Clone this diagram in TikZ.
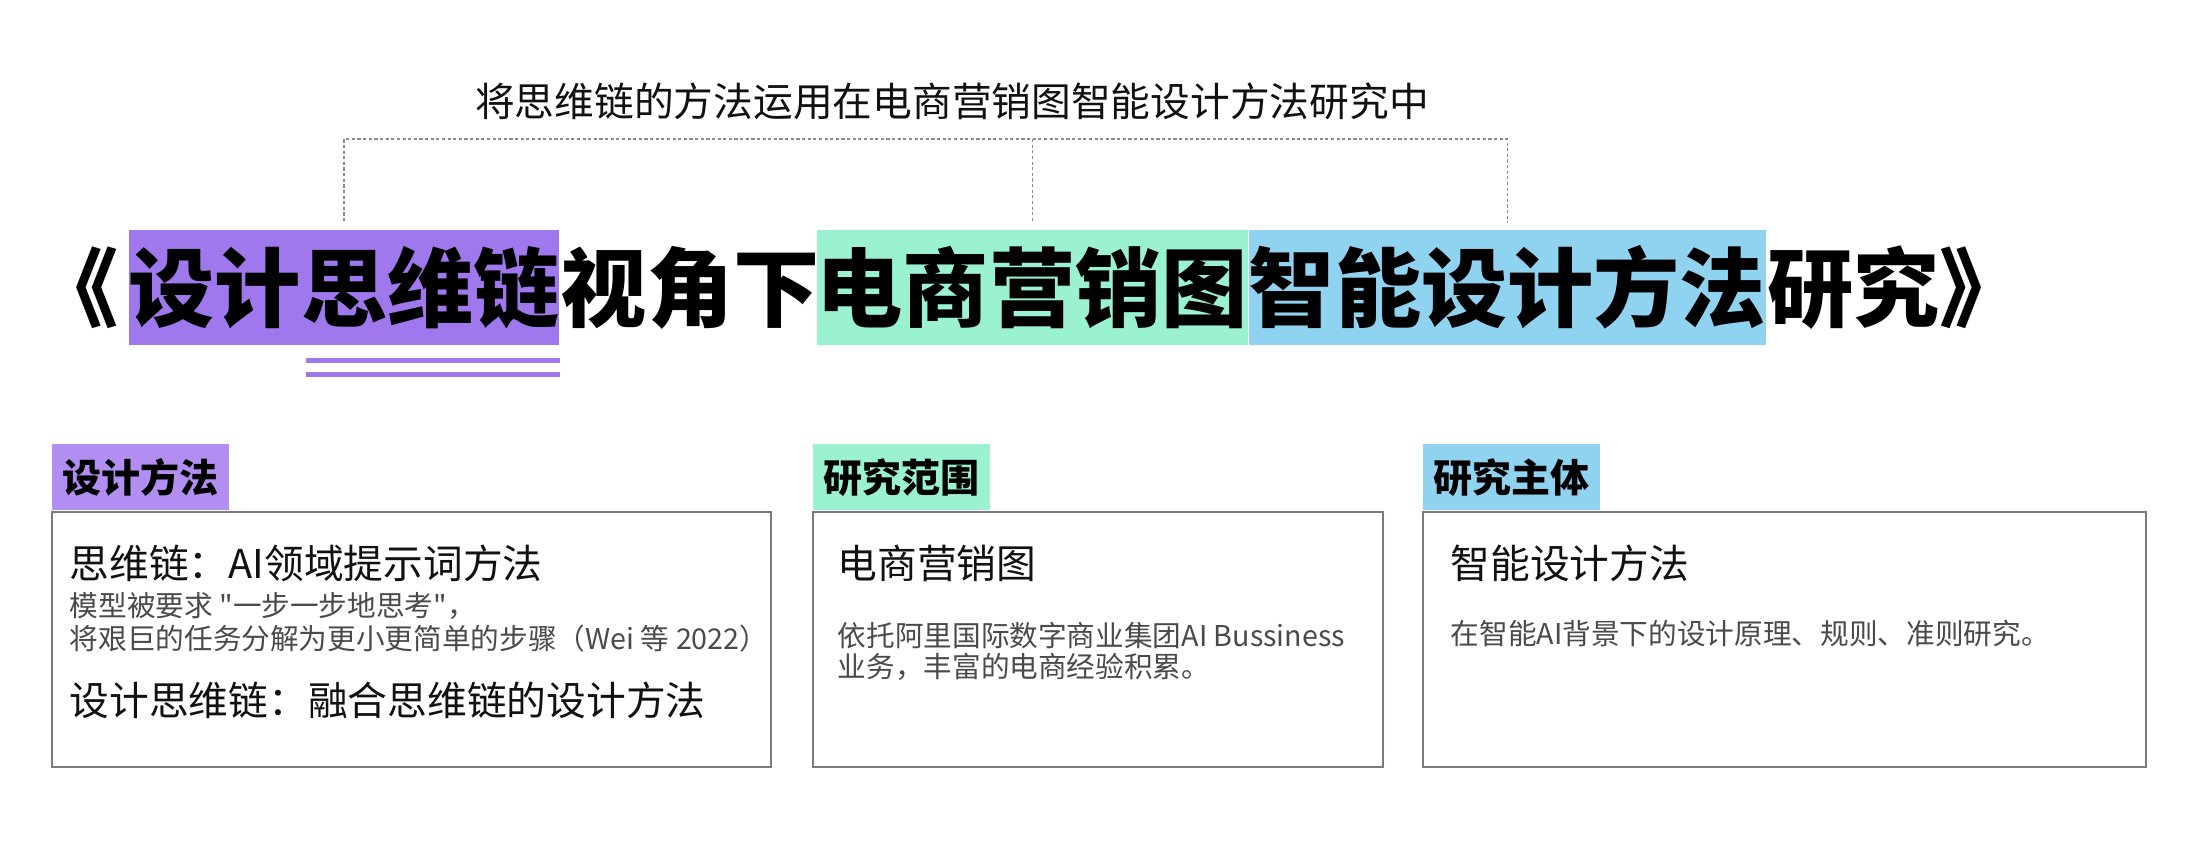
\documentclass[tikz,border=0pt]{standalone}
\usepackage{fontspec}
\setmainfont{Noto Sans CJK SC}
\newfontfamily\cjkplain{Noto Sans CJK SC}
\usepackage{tikz}
\usetikzlibrary{positioning}
\definecolor{purpA}{HTML}{A078EE}
\definecolor{purpB}{HTML}{B28EF3}
\definecolor{mint}{HTML}{9BF2D0}
\definecolor{sky}{HTML}{90D3F1}
\definecolor{cardgray}{HTML}{7A7A85}
\definecolor{dotgray}{HTML}{8C8C8C}
\definecolor{ink}{HTML}{111111}
\definecolor{txtgray}{HTML}{4A4A4A}
\tikzset{
  lead/.style={font=\fontsize{11.3pt}{11.3pt}\selectfont,text=ink,inner sep=0pt},
  ttl/.style={font=\bfseries\fontsize{24.5pt}{24.5pt}\selectfont,text=black,inner xsep=0pt,inner ysep=0.145cm,text height=0.757cm,text depth=0.103cm},
  tag/.style={font=\bfseries\fontsize{11.1pt}{11.1pt}\selectfont,text=black,anchor=south west,inner xsep=0.105cm,inner ysep=0.135cm,text height=0.343cm,text depth=0.047cm},
  card/.style={draw=cardgray,line width=0.43pt,minimum height=2.55cm,anchor=north west,inner sep=0pt},
  hd/.style={font=\fontsize{11.3pt}{11.3pt}\selectfont,text=ink,anchor=west,inner sep=0pt,text height=0.35cm,text depth=0.048cm},
  txt/.style={font=\cjkplain\fontsize{8.15pt}{8.15pt}\selectfont,text=txtgray,anchor=west,inner sep=0pt,text height=0.25cm,text depth=0.035cm},
  dots/.style={draw=dotgray,line width=0.37pt,dash pattern=on 0.9pt off 0.7pt},
  ubar/.style={draw=purpA,line width=0.05cm}
}

\begin{document}
\begin{tikzpicture}[x=0.01cm,y=-0.01cm]
\fill[white] (0,0) rectangle (2212,856);
\useasboundingbox (0,0) rectangle (2212,856);
\node[lead] (lead) at (952,101) {将思维链的方法运用在电商营销图智能设计方法研究中};
% title line
\node[ttl,fill=purpA,anchor=west] (purp) at (128,287.5) {设计思维链};
\node[ttl,left=0.09cm of purp] (qa) {《};
\node[ttl,right=0pt of purp] (mid) {视角下};
\node[ttl,fill=mint,right=-0.04cm of mid] (green) {电商营销图};
\node[ttl,fill=sky,right=0pt of green] (blue) {智能设计方法};
\node[ttl,right=0pt of blue] (qb) {研究》};
\draw[ubar] ([yshift=-0.145cm]purp.south east) -- ++(-254,0);
\draw[ubar] ([yshift=-0.285cm]purp.south east) -- ++(-254,0);
% bracket
\coordinate (bk) at (342,139);
\draw[dots] ([yshift=0.08cm]purp.north) |- (bk -| blue.north) -- ([yshift=0.06cm]blue.north);
\draw[dots] (bk -| green.north) -- ([yshift=0.06cm]green.north);
% cards
\node[card,minimum width=7.19cm] (c1) at (51,511) {};
\node[card,minimum width=5.70cm] (c2) at (812,511) {};
\node[card,minimum width=7.23cm] (c3) at (1422,511) {};
\node[tag,fill=purpB] (g1) at (c1.north west) {设计方法};
\node[tag,fill=mint] (g2) at (c2.north west) {研究范围};
\node[tag,fill=sky] (g3) at (c3.north west) {研究主体};
\node[hd] (h1) at ([shift={(18,52)}]c1.north west) {思维链：AI领域提示词方法};
\node[txt] (t1a) at ([yshift=-0.43cm]h1.west) {模型被要求 "一步一步地思考"，};
\node[txt] (t1b) at ([yshift=-0.76cm]h1.west) {将艰巨的任务分解为更小更简单的步骤（Wei 等 2022）};
\node[hd] (h1b) at ([yshift=-1.37cm]h1.west) {设计思维链：融合思维链的设计方法};
\node[hd] (h2) at ([shift={(25,52)}]c2.north west) {电商营销图};
\node[txt] (t2a) at ([yshift=-0.73cm]h2.west) {依托阿里国际数字商业集团AI Bussiness};
\node[txt] (t2b) at ([yshift=-1.04cm]h2.west) {业务，丰富的电商经验积累。};
\node[hd] (h3) at ([shift={(28,52)}]c3.north west) {智能设计方法};
\node[txt] (t3a) at ([yshift=-0.71cm]h3.west) {在智能AI背景下的设计原理、规则、准则研究。};
\end{tikzpicture}
\end{document}
